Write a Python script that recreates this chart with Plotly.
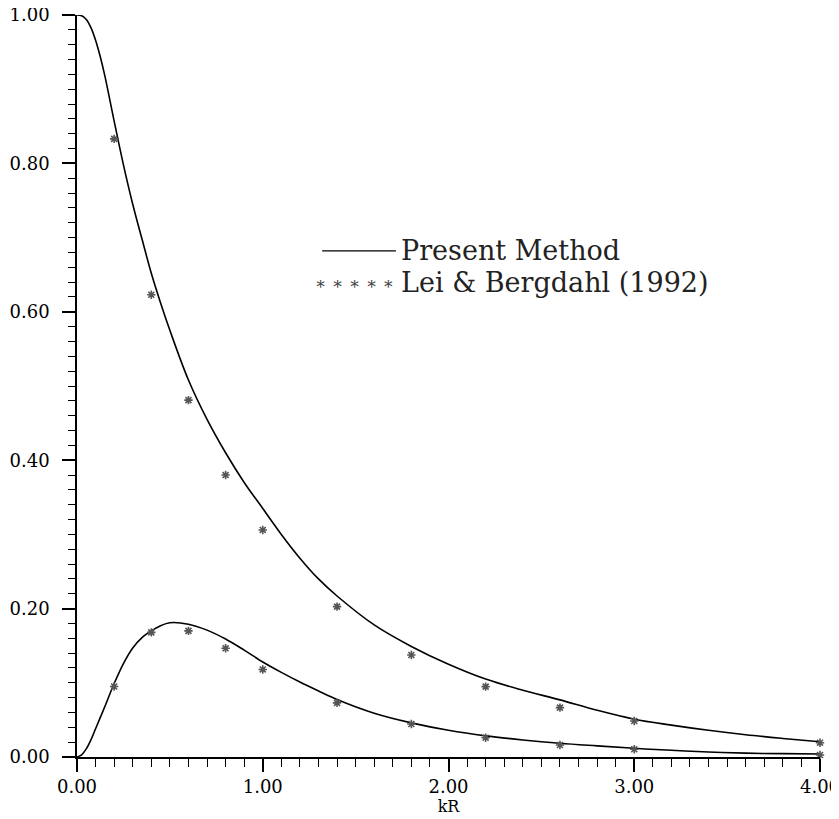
import plotly.graph_objects as go

# Present Method curves
curve_x = [0.0, 0.025, 0.05, 0.075, 0.1, 0.125, 0.15, 0.2, 0.25, 0.3, 0.35, 0.4, 0.45, 0.5, 0.6, 0.7, 0.8, 0.9,
           1.0, 1.1, 1.2, 1.3, 1.4, 1.6, 1.8, 2.0, 2.2, 2.4, 2.6, 2.8, 3.0, 3.2, 3.4, 3.6, 3.8, 4.0]
upper_curve = [1.000, 0.999, 0.994, 0.983, 0.966, 0.944, 0.918, 0.857, 0.798, 0.745, 0.698, 0.652, 0.612,
               0.575, 0.508, 0.455, 0.410, 0.370, 0.335, 0.300, 0.268, 0.240, 0.217, 0.178, 0.149, 0.125,
               0.105, 0.090, 0.077, 0.063, 0.051, 0.043, 0.036, 0.030, 0.025, 0.0205]
lower_curve = [0.0, 0.003, 0.011, 0.023, 0.038, 0.053, 0.068, 0.099, 0.126, 0.147, 0.161, 0.170, 0.177,
               0.181, 0.179, 0.171, 0.159, 0.144, 0.128, 0.114, 0.101, 0.089, 0.0775, 0.059, 0.046, 0.036,
               0.0285, 0.023, 0.0185, 0.015, 0.0117, 0.009, 0.0068, 0.0052, 0.0045, 0.004]

# Lei & Bergdahl (1992)
lb_x = [0.2, 0.4, 0.6, 0.8, 1.0, 1.4, 1.8, 2.2, 2.6, 3.0, 4.0]
lb_upper = [0.833, 0.623, 0.481, 0.380, 0.306, 0.2026, 0.1375, 0.0948, 0.0665, 0.0485, 0.0193]
lb_lower = [0.095, 0.168, 0.170, 0.1465, 0.118, 0.073, 0.0445, 0.026, 0.0162, 0.0104, 0.0027]

x_ticks = [0, 1, 2, 3, 4]
y_ticks = [0, 0.2, 0.4, 0.6, 0.8, 1.0]
legend_labels = ["Present Method", "Lei & Bergdahl (1992)"]

FONT = "DejaVu Serif"
fig = go.Figure()
for yv in (upper_curve, lower_curve):
    fig.add_trace(go.Scatter(x=curve_x, y=yv, mode="lines",
                             line=dict(color="black", width=1.6, shape="spline", smoothing=1.0),
                             showlegend=False, hoverinfo="skip", cliponaxis=False))
for yv in (lb_upper, lb_lower):
    fig.add_trace(go.Scatter(x=lb_x, y=yv, mode="markers",
                             marker=dict(symbol="asterisk-open", size=7, color="#555555",
                                         line=dict(color="#555555", width=1.6)),
                             showlegend=False, cliponaxis=False))

# manual legend
fig.add_shape(type="line", xref="x", yref="y", x0=1.32, x1=1.717, y0=0.682, y1=0.682,
              line=dict(color="black", width=1.3))
fig.add_annotation(x=1.733, y=0.682, xref="x", yref="y", text=legend_labels[0], showarrow=False,
                   xanchor="left", yanchor="middle", font=dict(family=FONT, size=27, color="#222"))
fig.add_annotation(x=1.733, y=0.639, xref="x", yref="y", text=legend_labels[1], showarrow=False,
                   xanchor="left", yanchor="middle", font=dict(family=FONT, size=27, color="#222"))
fig.add_annotation(x=1.72, y=0.639, xref="x", yref="y", text="∗ ∗ ∗ ∗ ∗", showarrow=False,
                   xanchor="right", yanchor="middle", font=dict(family=FONT, size=17, color="#444"))

axis_common = dict(showline=True, linecolor="black", linewidth=1.6, showgrid=False, zeroline=False,
                   ticks="outside", ticklen=13, tickwidth=1.5, tickcolor="black", tickformat=".2f",
                   tickfont=dict(family=FONT, size=18, color="black"), mirror=False, automargin=False,
                   ticklabeloverflow="allow")
fig.update_xaxes(range=[0, 4], tickvals=x_ticks, **axis_common,
                 minor=dict(dtick=0.1, ticklen=8, tickwidth=1.3, tickcolor="black", ticks="outside"),
                 title=dict(text="kR", font=dict(family=FONT, size=16, color="black"), standoff=4))
fig.update_yaxes(range=[0, 1], tickvals=y_ticks, **axis_common, ticklabelstandoff=9,
                 minor=dict(dtick=0.02, ticklen=7, tickwidth=1.3, tickcolor="black", ticks="outside"))
fig.update_layout(width=831, height=811, margin=dict(l=69, r=19, t=7, b=62, autoexpand=False),
                  plot_bgcolor="white", paper_bgcolor="white", showlegend=False)
fig.write_html("out.html")
